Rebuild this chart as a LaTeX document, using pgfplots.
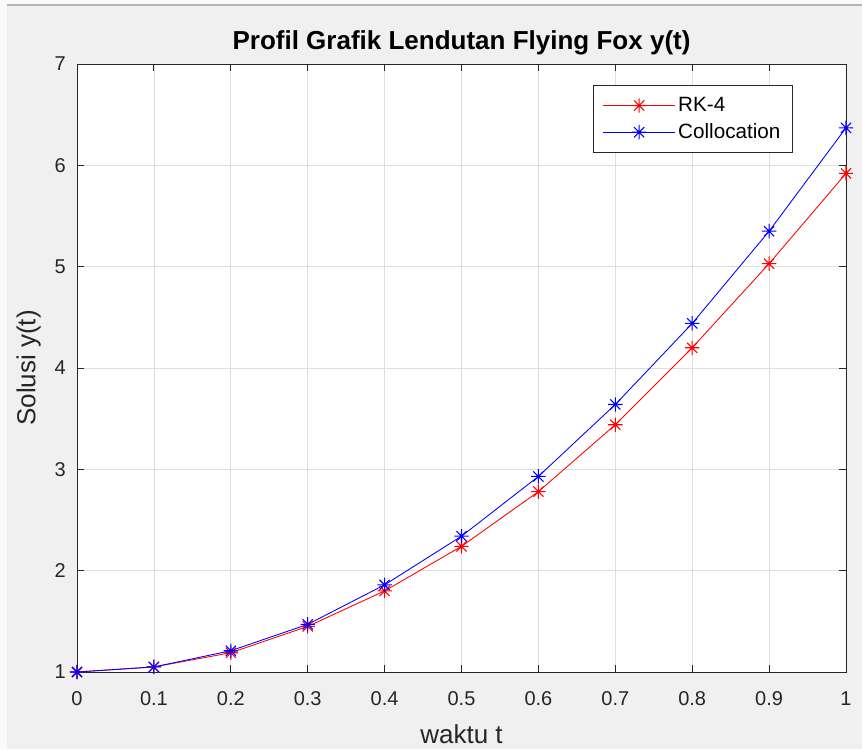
\documentclass[border=0pt]{standalone}
\usepackage{pgfplots}
\pgfplotsset{compat=1.18}
\usepackage{fontspec}
\setmainfont{Liberation Sans}
\definecolor{figbg}{RGB}{240,240,240}
\definecolor{edgebg}{RGB}{250,250,250}
\definecolor{axcol}{RGB}{38,38,38}
\definecolor{gridcol}{RGB}{222,222,222}
\pgfdeclareplotmark{mstar}{%
  \pgfpathmoveto{\pgfqpoint{-\pgfplotmarksize}{0pt}}\pgfpathlineto{\pgfqpoint{\pgfplotmarksize}{0pt}}%
  \pgfpathmoveto{\pgfqpoint{0pt}{-\pgfplotmarksize}}\pgfpathlineto{\pgfqpoint{0pt}{\pgfplotmarksize}}%
  \pgfpathmoveto{\pgfqpoint{-0.7071\pgfplotmarksize}{-0.7071\pgfplotmarksize}}\pgfpathlineto{\pgfqpoint{0.7071\pgfplotmarksize}{0.7071\pgfplotmarksize}}%
  \pgfpathmoveto{\pgfqpoint{-0.7071\pgfplotmarksize}{0.7071\pgfplotmarksize}}\pgfpathlineto{\pgfqpoint{0.7071\pgfplotmarksize}{-0.7071\pgfplotmarksize}}%
  \pgfusepathqstroke}
\begin{document}
\begin{tikzpicture}
\fill[figbg, use as bounding box] (-57.75pt,-57.75pt) rectangle (588.75pt,504pt);
\fill[edgebg] (-57.75pt,-57.75pt) rectangle (-52.5pt,504pt);
\fill[edgebg] (-57.75pt,500.25pt) rectangle (588.75pt,504pt);
\draw[gray!60, line width=1.2pt] (-52.5pt,500.25pt) -- (588.75pt,500.25pt);
\begin{axis}[
  at={(0,0)}, anchor=south west,
  scale only axis, width=576.75pt, height=456pt,
  xmin=0, xmax=1, ymin=1, ymax=7,
  axis background/.style={fill=white},
  axis line style={axcol, line width=0.7pt},
  xtick={0,0.1,0.2,0.3,0.4,0.5,0.6,0.7,0.8,0.9,1},
  xticklabels={0,0.1,0.2,0.3,0.4,0.5,0.6,0.7,0.8,0.9,1},
  ytick={1,2,3,4,5,6,7},
  yticklabels={1,2,3,4,5,6,7},
  tick align=inside, tick pos=both,
  major tick length=5pt,
  tick style={axcol, line width=0.7pt},
  grid=major, major grid style={gridcol, line width=0.6pt},
  ticklabel style={font=\fontsize{15}{17}\selectfont, text=axcol},
  xticklabel style={yshift=-11pt},
  yticklabel style={xshift=-5pt},
  xlabel={waktu t}, ylabel={Solusi y(t)},
  label style={font=\fontsize{19.5}{22}\selectfont, text=axcol},
  xlabel style={at={(axis description cs:0.5,-0.103)}, anchor=center},
  ylabel style={at={(axis description cs:-0.063,0.5)}, anchor=center, rotate=0},
  title={\bfseries Profil Grafik Lendutan Flying Fox y(t)},
  title style={font=\fontsize{19.5}{22}\selectfont, at={(axis description cs:0.5,1.010)}, anchor=base},
  legend style={at={(0.931,0.9655)}, anchor=north east, draw=axcol, line width=0.7pt,
    font=\fontsize{15.5}{17}\selectfont, inner xsep=7pt, inner ysep=7pt, row sep=3.5pt,
    nodes={inner xsep=2pt}},
  legend cell align=left,
  legend image code/.code={
    \draw[mark repeat=2,mark phase=2] plot coordinates {(0pt,0pt) (27pt,0pt) (54pt,0pt)};
  },
]
\addplot[red, line width=0.65pt, mark=mstar, mark size=5.4pt, mark options={line width=0.8pt}] coordinates {
 (0,1.00) (0.1,1.05) (0.2,1.19) (0.3,1.45) (0.4,1.80) (0.5,2.24) (0.6,2.78) (0.7,3.44) (0.8,4.20) (0.9,5.03) (1.0,5.92)
};
\addlegendentry{RK-4}
\addplot[blue, line width=0.65pt, mark=mstar, mark size=5.4pt, mark options={line width=0.8pt}] coordinates {
 (0,1.00) (0.1,1.05) (0.2,1.21) (0.3,1.47) (0.4,1.86) (0.5,2.34) (0.6,2.93) (0.7,3.64) (0.8,4.44) (0.9,5.35) (1.0,6.37)
};
\addlegendentry{Collocation}
\end{axis}
\end{tikzpicture}
\end{document}
